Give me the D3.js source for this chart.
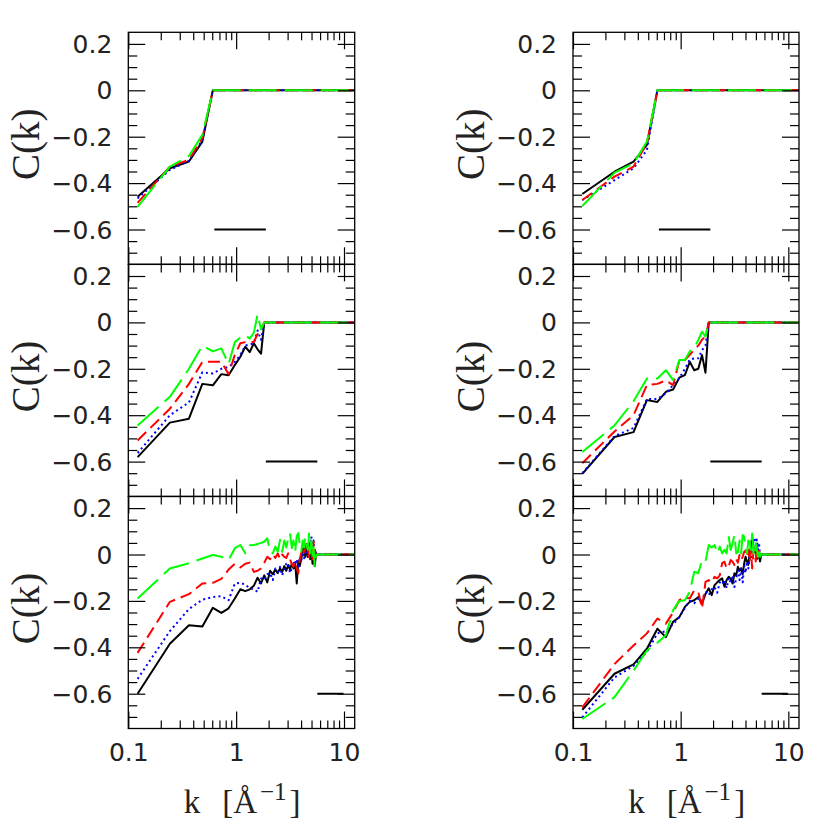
<!DOCTYPE html>
<html><head><meta charset="utf-8">
<script src="https://cdn.jsdelivr.net/npm/d3@7"></script>
<style>body{margin:0;background:#fff}svg{display:block}</style>
</head><body>
<svg id="c" width="830" height="830"></svg>
<script>
// ---------- data ----------
const xDomain = [0.1, 12.566];
const yDomain = [-0.75, 0.25];

const kTop = [0.122, 0.243, 0.365, 0.486, 0.608, 12.566];
const kMid = [0.122, 0.243, 0.365, 0.486, 0.608, 0.729, 0.851, 0.972, 1.094, 1.215,
  1.337, 1.458, 1.580, 1.701, 1.823, 12.566];
const kBot = [0.122, 0.243, 0.365, 0.486, 0.608, 0.729, 0.851, 0.972, 1.094, 1.215,
  1.337, 1.458, 1.580, 1.701, 1.823, 1.944, 2.066, 2.187, 2.309, 2.430,
  2.552, 2.673, 2.795, 2.916, 3.038, 3.159, 3.281, 3.402, 3.524, 3.645,
  3.767, 3.888, 4.010, 4.131, 4.253, 4.374, 4.496, 4.617, 4.739, 4.860,
  4.982, 5.103, 5.225, 5.346, 5.468, 5.589, 12.566];

// top-left
const tlBlack = [-0.459, -0.336, -0.307, -0.221, 0, 0];
const tlBlue  = [-0.466, -0.343, -0.304, -0.214, 0, 0];
const tlRed   = [-0.485, -0.329, -0.300, -0.206, 0, 0];
const tlGreen = [-0.502, -0.329, -0.283, -0.192, 0, 0];
// top-right
const trBlack = [-0.447, -0.351, -0.307, -0.235, 0, 0];
const trBlue  = [-0.473, -0.387, -0.336, -0.257, 0, 0];
const trRed   = [-0.473, -0.372, -0.329, -0.228, 0, 0];
const trGreen = [-0.499, -0.355, -0.315, -0.221, 0, 0];
// middle-left
const mlBlack = [-0.581, -0.432, -0.415, -0.265, -0.271, -0.223, -0.228, -0.184, -0.148, -0.105, -0.128, -0.090, -0.116, -0.135, 0, 0];
const mlBlue  = [-0.563, -0.400, -0.345, -0.215, -0.220, -0.200, -0.192, -0.170, -0.140, -0.100, -0.095, -0.090, -0.035, -0.075, 0, 0];
const mlRed   = [-0.509, -0.372, -0.265, -0.170, -0.170, -0.170, -0.223, -0.140, -0.090, -0.085, -0.085, -0.085, -0.050, -0.030, 0, 0];
const mlGreen = [-0.444, -0.321, -0.200, -0.100, -0.125, -0.112, -0.180, -0.085, -0.065, -0.055, -0.070, -0.045, 0.035, -0.030, 0, 0];
// middle-right
const mrBlack = [-0.653, -0.494, -0.473, -0.335, -0.343, -0.299, -0.289, -0.238, -0.227, -0.170, -0.206, -0.200, -0.141, -0.217, 0, 0];
const mrBlue  = [-0.650, -0.490, -0.455, -0.330, -0.330, -0.305, -0.270, -0.240, -0.200, -0.160, -0.155, -0.155, -0.120, -0.100, 0, 0];
const mrRed   = [-0.607, -0.470, -0.400, -0.270, -0.265, -0.250, -0.270, -0.165, -0.162, -0.140, -0.116, -0.100, -0.075, -0.060, 0, 0];
const mrGreen = [-0.559, -0.444, -0.340, -0.242, -0.242, -0.206, -0.249, -0.162, -0.162, -0.125, -0.110, -0.076, -0.040, -0.061, 0, 0];
// bottom-left
const blBlack = [-0.600, -0.385, -0.305, -0.310, -0.230, -0.252, -0.232, -0.190, -0.150, -0.158,
  -0.150, -0.135, -0.100, -0.125, -0.090, -0.120, -0.070, -0.085, -0.065, -0.080,
  -0.060, -0.075, -0.050, -0.070, -0.045, -0.065, -0.040, -0.060, -0.035, -0.125,
  -0.030, -0.050, -0.020, 0.010, 0.040, -0.010, 0.045, -0.010, 0.050, -0.020,
  0.030, -0.040, 0.020, -0.050, -0.010, 0, 0];
const blBlue  = [-0.536, -0.330, -0.235, -0.195, -0.183, -0.180, -0.197, -0.125, -0.122, -0.130,
  -0.146, -0.150, -0.161, -0.103, -0.110, -0.085, -0.081, -0.110, -0.060, -0.075,
  -0.053, -0.090, -0.060, -0.040, -0.038, -0.080, -0.060, -0.030, -0.045, -0.020,
  -0.060, -0.010, -0.030, 0.010, -0.020, 0.005, 0.030, -0.010, 0.020, 0.050,
  0.077, 0.020, 0.060, -0.040, 0.010, 0, 0];
const blRed   = [-0.424, -0.204, -0.171, -0.125, -0.122, -0.105, -0.065, -0.040, -0.056, -0.040,
  -0.035, -0.075, -0.070, -0.060, -0.035, -0.010, -0.020, 0.000, -0.015, 0.005,
  -0.020, 0.000, -0.010, -0.015, 0.005, -0.020, -0.040, -0.053, -0.030, -0.060,
  -0.081, -0.020, 0.005, 0.030, 0.010, 0.020, 0.048, 0.030, -0.010, 0.020,
  0.030, -0.020, 0.055, 0.040, -0.010, 0, 0];
const blGreen = [-0.190, -0.060, -0.038, -0.017, -0.002, -0.010, -0.024, 0.027, 0.041, 0.005,
  0.040, 0.041, 0.045, 0.050, 0.055, 0.070, 0.010, 0.005, 0.034, 0.012,
  0.063, 0.012, 0.060, 0.030, 0.070, 0.092, 0.027, 0.060, 0.010, 0.080,
  0.092, 0.041, 0.012, 0.060, 0.030, 0.075, 0.048, 0.020, 0.090, 0.005,
  0.060, -0.010, 0.030, -0.050, -0.010, 0, 0];
// bottom-right
const brBlack = [-0.669, -0.514, -0.474, -0.406, -0.320, -0.356, -0.290, -0.270, -0.226, -0.204,
  -0.197, -0.183, -0.212, -0.170, -0.146, -0.175, -0.132, -0.120, -0.110, -0.103,
  -0.139, -0.110, -0.096, -0.105, -0.125, -0.081, -0.090, -0.053, -0.070, -0.060,
  -0.085, -0.040, -0.010, -0.030, -0.045, 0.005, 0.030, 0.077, 0.030, 0.012,
  0.030, -0.020, 0.010, -0.010, -0.030, 0, 0];
const brBlue  = [-0.702, -0.530, -0.480, -0.420, -0.340, -0.330, -0.300, -0.270, -0.230, -0.200,
  -0.210, -0.190, -0.200, -0.160, -0.175, -0.150, -0.140, -0.165, -0.120, -0.130,
  -0.110, -0.145, -0.100, -0.120, -0.090, -0.140, -0.100, -0.070, -0.110, -0.060,
  -0.120, -0.050, -0.080, -0.030, -0.060, 0.000, -0.020, 0.030, 0.060, 0.070,
  0.040, 0.065, 0.020, 0.050, -0.010, 0, 0];
const brRed   = [-0.659, -0.472, -0.392, -0.340, -0.276, -0.298, -0.250, -0.197, -0.183, -0.190,
  -0.154, -0.161, -0.232, -0.118, -0.110, -0.120, -0.096, -0.103, -0.090, -0.037,
  -0.031, -0.060, -0.050, -0.024, -0.031, -0.045, -0.020, -0.035, -0.002, -0.024,
  -0.010, 0.011, 0.018, -0.010, 0.020, -0.030, 0.015, -0.060, 0.010, 0.020,
  -0.030, 0.040, -0.020, 0.015, -0.005, 0, 0];
const brGreen = [-0.709, -0.615, -0.500, -0.414, -0.380, -0.348, -0.240, -0.200, -0.197, -0.161,
  -0.074, -0.081, -0.024, -0.031, 0.041, 0.030, 0.041, 0.005, 0.034, 0.005,
  0.020, 0.005, 0.077, 0.019, 0.050, 0.084, 0.005, 0.010, 0.060, 0.005,
  0.084, 0.077, 0.030, 0.005, 0.060, 0.055, 0.020, 0.090, 0.010, -0.010,
  0.050, 0.020, -0.010, 0.030, -0.010, 0, 0];

// short black reference bars at C = -0.6 (k range)
const barTop = [0.628, 1.885];
const barMid = [1.885, 5.655];
const barBot = [5.655, 9.9];
const barLevel = -0.6;

// tick values
const yMajor = [-0.6, -0.4, -0.2, 0, 0.2];
const yMinor = [-0.7, -0.65, -0.55, -0.5, -0.45, -0.35, -0.3, -0.25, -0.15, -0.1, -0.05, 0.05, 0.1, 0.15];
const xMajor = [0.1, 1, 10];
const xMinor = [0.2, 0.3, 0.4, 0.5, 0.6, 0.7, 0.8, 0.9, 2, 3, 4, 5, 6, 7, 8, 9];
const xLabels = ["0.1", "1", "10"];

// ---------- drawing ----------
const svg = d3.select('#c');
const cols = [{x0: 128.3, x1: 354.7}, {x0: 573, x1: 799}];
const rowTops = [32.3, 264.4, 496.5];
const H = 232;

const seriesStyle = [
  {color: '#000000', dash: null},
  {color: '#0000ff', dash: '2,3.2'},
  {color: '#ff0000', dash: '12,6'},
  {color: '#00ff00', dash: '28,8'}
];

const panels = [
  {col: 0, row: 0, k: kTop, s: [tlBlack, tlBlue, tlRed, tlGreen], bar: barTop},
  {col: 0, row: 1, k: kMid, s: [mlBlack, mlBlue, mlRed, mlGreen], bar: barMid},
  {col: 0, row: 2, k: kBot, s: [blBlack, blBlue, blRed, blGreen], bar: barBot},
  {col: 1, row: 0, k: kTop, s: [trBlack, trBlue, trRed, trGreen], bar: barTop},
  {col: 1, row: 1, k: kMid, s: [mrBlack, mrBlue, mrRed, mrGreen], bar: barMid},
  {col: 1, row: 2, k: kBot, s: [brBlack, brBlue, brRed, brGreen], bar: barBot}
];

const fmtY = v => v === 0 ? '0' : d3.format('.1f')(v);
const tickFont = '"DejaVu Sans", sans-serif';
const labelFont = '"Liberation Serif", "DejaVu Serif", serif';

panels.forEach((p, i) => {
  const c = cols[p.col];
  const top = rowTops[p.row];
  const x = d3.scaleLog().domain(xDomain).range([c.x0, c.x1]);
  const y = d3.scaleLinear().domain(yDomain).range([top + H, top]);

  const clipId = 'clip' + i;
  svg.append('clipPath').attr('id', clipId).append('rect')
    .attr('x', c.x0).attr('y', top).attr('width', c.x1 - c.x0).attr('height', H);

  const g = svg.append('g');
  const lg = g.append('g').attr('clip-path', `url(#${clipId})`);
  const line = d3.line().x(d => x(d[0])).y(d => y(d[1]));

  p.s.forEach((vals, si) => {
    const pts = p.k.map((k, j) => [k, vals[j]]);
    const st = seriesStyle[si];
    lg.append('path').datum(pts)
      .attr('d', line)
      .attr('fill', 'none')
      .attr('stroke', st.color)
      .attr('stroke-width', 2)
      .attr('stroke-linejoin', 'round')
      .attr('stroke-dasharray', st.dash);
  });

  // reference bar
  lg.append('line')
    .attr('x1', x(p.bar[0])).attr('x2', x(p.bar[1]))
    .attr('y1', y(barLevel)).attr('y2', y(barLevel))
    .attr('stroke', '#000').attr('stroke-width', 2);

  const axStyle = sel => {
    sel.select('.domain').remove();
    sel.selectAll('line').attr('stroke', '#000').attr('stroke-width', 1.2);
  };

  // left axis
  g.append('g').attr('transform', `translate(${c.x0},0)`)
    .call(d3.axisLeft(y).tickValues(yMinor).tickSize(-9).tickFormat(''))
    .call(axStyle);
  g.append('g').attr('transform', `translate(${c.x0},0)`)
    .call(d3.axisLeft(y).tickValues(yMajor).tickSize(-17).tickPadding(16).tickFormat(fmtY))
    .call(axStyle)
    .call(sel => sel.selectAll('text')
      .attr('font-family', tickFont).attr('font-size', 25).attr('fill', '#222')
      .attr('dy', '0.34em'));
  // right axis
  g.append('g').attr('transform', `translate(${c.x1},0)`)
    .call(d3.axisRight(y).tickValues(yMinor).tickSize(-9).tickFormat(''))
    .call(axStyle);
  g.append('g').attr('transform', `translate(${c.x1},0)`)
    .call(d3.axisRight(y).tickValues(yMajor).tickSize(-17).tickFormat(''))
    .call(axStyle);
  // top axis
  g.append('g').attr('transform', `translate(0,${top})`)
    .call(d3.axisTop(x).tickValues(xMinor).tickSize(-8).tickFormat(''))
    .call(axStyle);
  g.append('g').attr('transform', `translate(0,${top})`)
    .call(d3.axisTop(x).tickValues(xMajor).tickSize(-17).tickFormat(''))
    .call(axStyle);
  // bottom axis
  g.append('g').attr('transform', `translate(0,${top + H})`)
    .call(d3.axisBottom(x).tickValues(xMinor).tickSize(-8).tickFormat(''))
    .call(axStyle);
  const bottomMajor = g.append('g').attr('transform', `translate(0,${top + H})`)
    .call(d3.axisBottom(x).tickValues(xMajor).tickSize(-17).tickPadding(15)
      .tickFormat((d, j) => p.row === 2 ? xLabels[j] : ''))
    .call(axStyle);
  bottomMajor.selectAll('text')
    .attr('font-family', tickFont).attr('font-size', 25).attr('fill', '#222');

  // frame
  g.append('rect')
    .attr('x', c.x0).attr('y', top).attr('width', c.x1 - c.x0).attr('height', H)
    .attr('fill', 'none').attr('stroke', '#000').attr('stroke-width', 1.3);

  // y title
  const yc = top + H / 2 - 4;
  const xt = c.x0 - 89;
  svg.append('text')
    .attr('transform', `translate(${xt},${yc}) rotate(-90)`)
    .attr('text-anchor', 'middle')
    .attr('font-family', labelFont).attr('font-size', 39)
    .attr('fill', '#222')
    .text('C(k)');
});

// x titles
cols.forEach(c => {
  const xs = d3.scaleLog().domain(xDomain).range([c.x0, c.x1]);
  const t = svg.append('text')
    .attr('x', xs(1) + 6).attr('y', 813)
    .attr('text-anchor', 'middle')
    .attr('font-family', labelFont).attr('font-size', 33)
    .attr('fill', '#222');
  t.append('tspan').text('k');
  t.append('tspan').attr('dx', 22).text('[Å');
  t.append('tspan').attr('dy', -13).attr('font-size', 25).attr('dx', 3).text('−1');
  t.append('tspan').attr('dy', 13).attr('dx', 3).text(']');
});
</script>
</body></html>
